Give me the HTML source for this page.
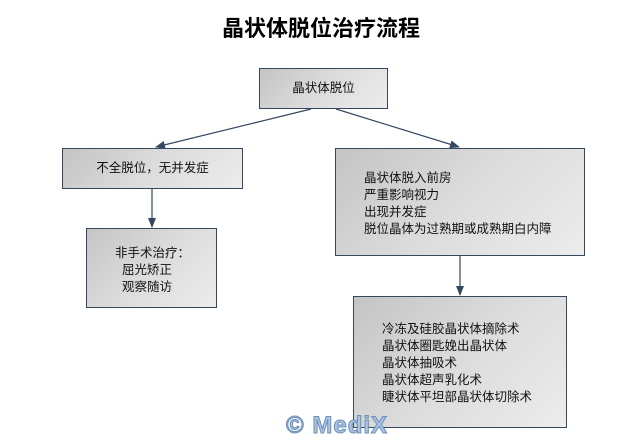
<!DOCTYPE html>
<html><head><meta charset="utf-8"><style>
body{margin:0;width:642px;height:437px;background:#fff;position:relative;overflow:hidden;font-family:"Liberation Sans","Noto Sans CJK SC",sans-serif;}
.b{position:absolute;box-sizing:border-box;border:1.5px solid #34485f;background:linear-gradient(135deg,#c4c4c4 0%,#dcdcdc 50%,#ececec 100%);font-size:12.5px;color:#111;line-height:17px;}
.t{position:absolute;white-space:nowrap}
</style></head><body>
<div class="t" style="left:0;width:642px;text-align:center;top:11px;font-size:22px;font-weight:bold;font-family:'Noto Sans CJK SC',sans-serif;">晶状体脱位治疗流程</div>
<svg width="642" height="437" style="position:absolute;left:0;top:0">
<defs><marker id="a" markerWidth="10" markerHeight="8" refX="9" refY="4" orient="auto" markerUnits="userSpaceOnUse"><path d="M0,0 L10,4 L0,8 Z" fill="#34485f"/></marker></defs>
<g stroke="#34485f" stroke-width="1.2" fill="none">
<line x1="311" y1="109" x2="156" y2="147" marker-end="url(#a)"/>
<line x1="336" y1="109" x2="459" y2="147" marker-end="url(#a)"/>
<line x1="152" y1="189" x2="152" y2="227" marker-end="url(#a)"/>
<line x1="460" y1="256" x2="460" y2="295" marker-end="url(#a)"/>
</g></svg>
<div class="b" style="left:259px;top:68px;width:129px;height:41px;text-align:center;line-height:38px;">晶状体脱位</div>
<div class="b" style="left:62px;top:148px;width:181px;height:41px;text-align:center;line-height:38px;">不全脱位，无并发症</div>
<div class="b" style="left:335px;top:148px;width:250px;height:108px;padding:21px 0 0 28px;">晶状体脱入前房<br>严重影响视力<br>出现并发症<br>脱位晶体为过熟期或成熟期白内障</div>
<div class="b" style="left:86px;top:228px;width:131px;height:80px;padding:16px 0 0 28px;">非手术治疗：<br>&nbsp;&nbsp;屈光矫正<br>&nbsp;&nbsp;观察随访</div>
<div class="b" style="left:353px;top:296px;width:214px;height:132px;padding:24px 0 0 28px;">冷冻及硅胶晶状体摘除术<br>晶状体圈匙娩出晶状体<br>晶状体抽吸术<br>晶状体超声乳化术<br>睫状体平坦部晶状体切除术</div>
<div class="t" style="left:286px;top:412px;font-size:24px;font-weight:bold;letter-spacing:1px;color:#a9c4e4;-webkit-text-stroke:1px #6f8fb8;">© MediX</div>
</body></html>
